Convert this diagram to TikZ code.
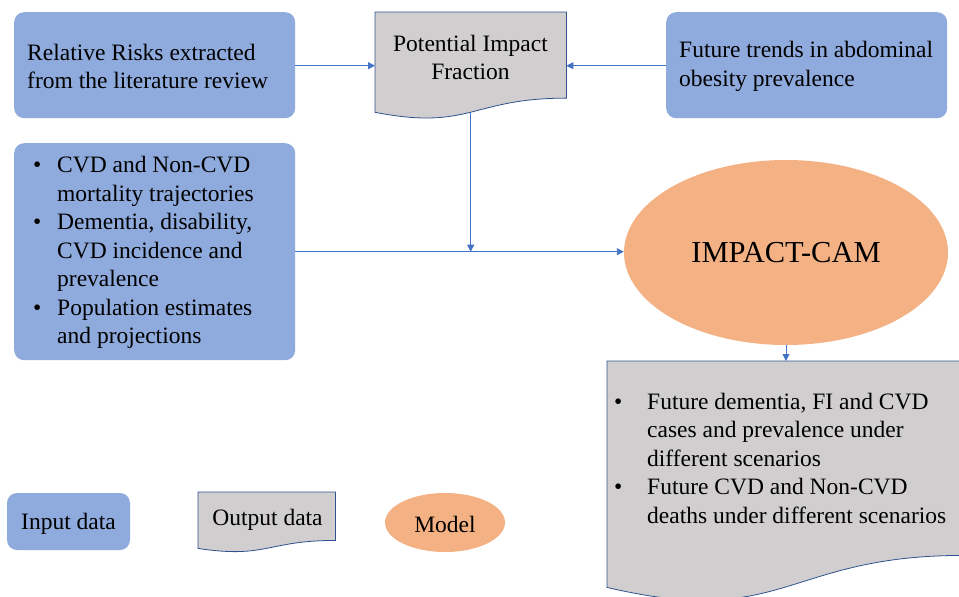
\documentclass[tikz,border=0pt]{standalone}
\usepackage{fontspec}
\setmainfont{Liberation Serif}
\usetikzlibrary{arrows.meta,shapes.geometric,calc,backgrounds}
\definecolor{inblue}{HTML}{8FAADC}
\definecolor{outgray}{HTML}{D0CECE}
\definecolor{modorange}{HTML}{F4B183}
\definecolor{arrblue}{HTML}{4472C4}
\definecolor{docline}{HTML}{2F528F}
\newcommand\docshape[1]{%
  \fill[outgray] (#1.north west) -- (#1.north east) -- ($(#1.north east)!0.802!(#1.south east)$)
    .. controls ($(#1.north)!0.802!(#1.south)$) and ($(#1.north)!1.107!(#1.south)$) ..
    ($(#1.north west)!0.934!(#1.south west)$) -- cycle;
  \draw[docline, line width=0.8pt] (#1.north west) -- (#1.north east) -- ($(#1.north east)!0.802!(#1.south east)$)
    .. controls ($(#1.north)!0.802!(#1.south)$) and ($(#1.north)!1.107!(#1.south)$) ..
    ($(#1.north west)!0.934!(#1.south west)$) -- cycle;}
\begin{document}
\begin{tikzpicture}[x=1pt,y=-1pt,
  every node/.style={font=\fontsize{23.5}{28.5}\selectfont, text=black},
  inbox/.style={fill=inblue, rounded corners=10pt, inner sep=0pt},
  frame/.style={rectangle, draw=none, inner sep=0pt},
  model/.style={ellipse, fill=modorange, inner sep=0pt},
  arr/.style={draw=arrblue, line width=0.9pt, -{Triangle[length=7pt,width=7pt]}},
  plain/.style={draw=arrblue, line width=0.9pt}]
\useasboundingbox (0,0) rectangle (959,597);

% input boxes
\node[inbox, anchor=north west, minimum width=281pt, minimum height=106pt] (rr) at (14,12) {};
\node[anchor=west, align=left, inner sep=0pt] (rrtext) at (27,66.5)
  {Relative Risks extracted\\from the literature review};
\node[inbox, anchor=north west, minimum width=281pt, minimum height=106pt] (ft) at (666,12) {};
\node[anchor=west, align=left, inner sep=0pt] (fttext) at (679,66.5)
  {Future trends in abdominal\\obesity prevalence};
\node[inbox, anchor=north west, minimum width=281pt, minimum height=217pt] (data) at (14,143) {};
\node[anchor=west, inner sep=0pt] (datatext) at (33,252.5)
  {\begin{tabular}{@{}p{24pt}@{}l@{}}
  \textbullet & CVD and Non-CVD\\
   & mortality trajectories\\
  \textbullet & Dementia, disability,\\
   & CVD incidence and\\
   & prevalence\\
  \textbullet & Population estimates\\
   & and projections
  \end{tabular}};

% potential impact fraction
\node[frame, anchor=north west, minimum width=191pt, minimum height=107pt] (pif) at (375,12) {};
\node[align=center, inner sep=0pt] (piftext) at (470.5,57.5) {Potential Impact\\Fraction};

% model
\node[model, minimum width=324pt, minimum height=185pt, font=\fontsize{30.5}{36}\selectfont] (cam) at (786,252.5) {IMPACT-CAM};

% output
\node[frame, anchor=north west, minimum width=356pt, minimum height=242pt] (out) at (607,361) {};
\node[anchor=west, inner sep=0pt] (outtext) at (614,460.5)
  {\begin{tabular}{@{}p{33pt}@{}l@{}}
  \textbullet & Future dementia, FI and CVD\\
   & cases and prevalence under\\
   & different scenarios\\
  \textbullet & Future CVD and Non-CVD\\
   & deaths under different scenarios
  \end{tabular}};

% legend
\node[inbox, minimum width=123pt, minimum height=57pt] (legin) at (68.5,521.5) {};
\node[inner sep=0pt] (legintext) at (68.5,523.5) {Input data};
\node[frame, anchor=north west, minimum width=137pt, minimum height=60pt] (legout) at (198,492) {};
\node[inner sep=0pt] (legouttext) at (267.5,519.5) {Output data};
\node[model, minimum width=120pt, minimum height=59pt] (legmod) at (445,522.5) {};
\node[inner sep=0pt] (legmodtext) at (445,524.5) {Model};

\begin{scope}[on background layer]
  \docshape{pif}
  \docshape{out}
  \docshape{legout}
\end{scope}

% connectors
\coordinate (pifbot) at ($(pif.north)!0.933!(pif.south)$);
\coordinate (join) at (pifbot |- data.east);
\draw[arr] (rr.east |- pif.west) -- (pif.west);
\draw[arr] (ft.west |- pif.east) -- (pif.east);
\draw[arr] (pifbot) -- (join);
\draw[arr] (data.east) -- (data.east -| cam.west);
\draw[arr] (cam.south) -- (out.north -| cam.south);
\end{tikzpicture}
\end{document}
